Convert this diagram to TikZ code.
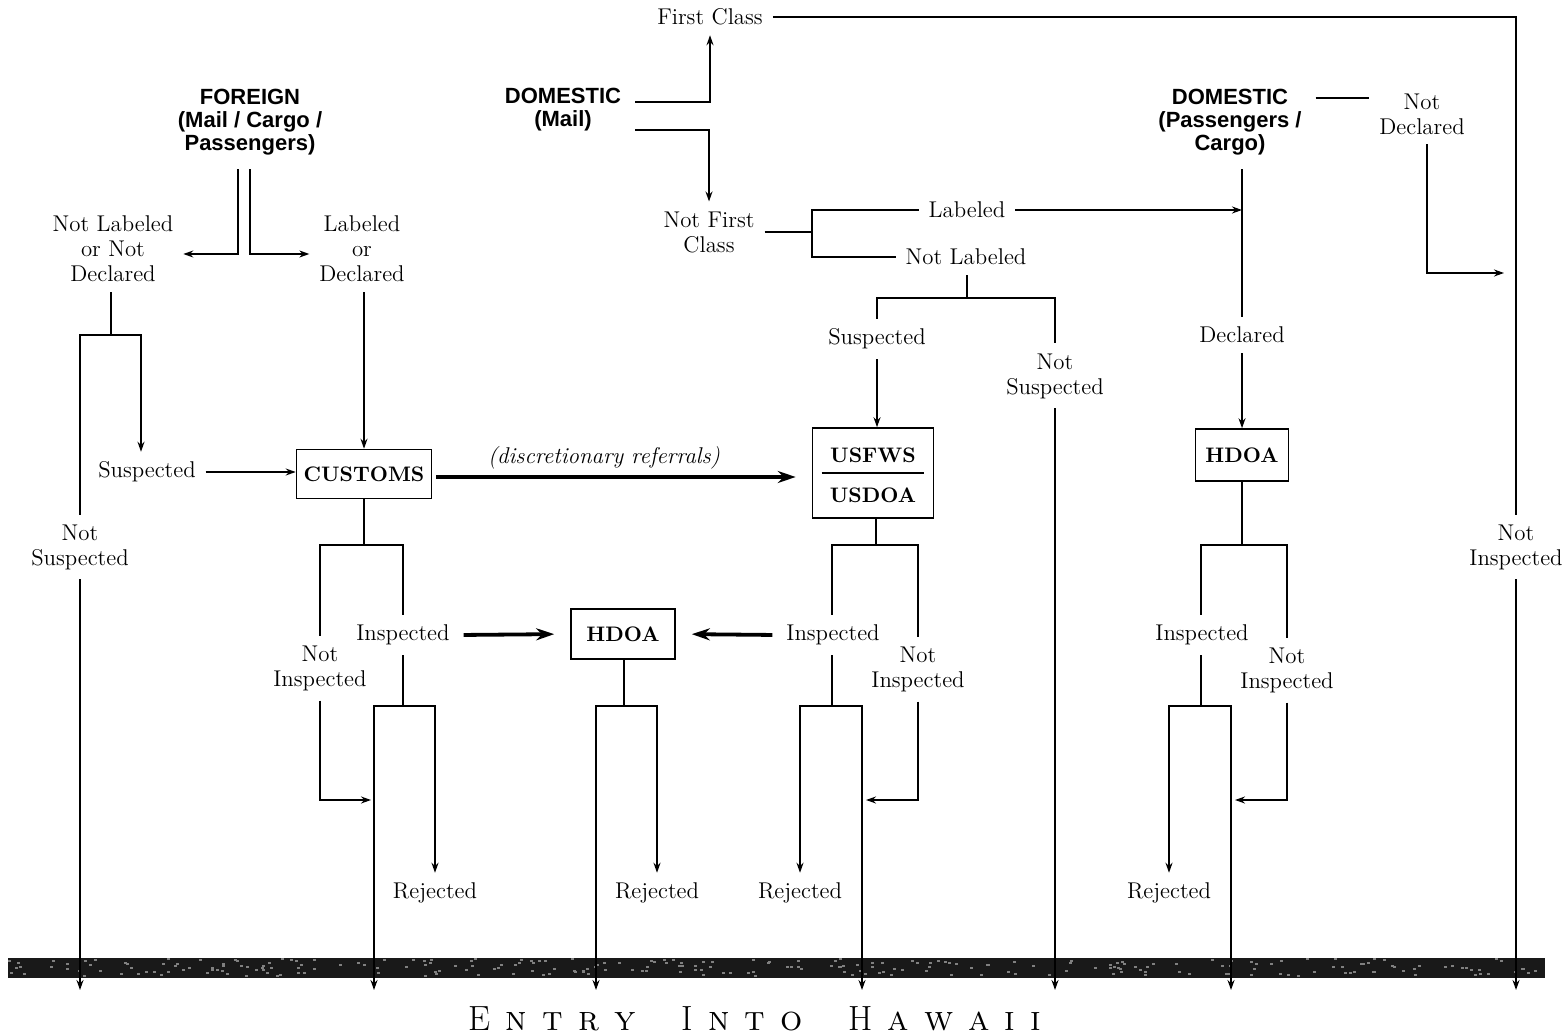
\documentclass[tikz,border=0pt]{standalone}
\usepackage{fontspec}
\usepackage{tikz}
\usetikzlibrary{arrows.meta,positioning}
\newfontfamily\headfont{Liberation Sans}
\newcommand{\lgap}{\hspace{7.5pt}}
\newcommand{\wgap}{\hspace{23pt}}
\tikzset{
  lbl/.style={font=\fontsize{11.4}{12.5}\selectfont, align=center, inner sep=1pt, outer sep=4pt},
  head/.style={font=\headfont\bfseries\fontsize{11}{11.6}\selectfont, align=center, inner sep=1pt, outer sep=6pt},
  agency/.style={draw, font=\bfseries\fontsize{10.5}{12}\selectfont, inner sep=0pt},
  bigarr/.style={-{Stealth[length=9pt,width=6pt]}, line width=1.9pt, shorten >=8pt, shorten <=2pt}
}

\begin{document}
\begin{tikzpicture}[x=0.5pt, y=-0.5pt, line width=0.8pt, >={Stealth[length=5pt,width=3.5pt]}]
  \useasboundingbox (0,0) rectangle (1566,1036);

  % where things come from
  \node[head] (fgn) at (250,122) {FOREIGN\\(Mail / Cargo /\\Passengers)};
  \node[head] (dmail) at (563,110) {DOMESTIC\\(Mail)};
  \node[head] (dpc) at (1230,122) {DOMESTIC\\(Passengers /\\Cargo)};

  % decisions
  \node[lbl] (fc) at (710,17) {First Class};
  \node[lbl] (nfc) at (709,232) {Not First\\Class};
  \node[lbl] (lab) at (967,210) {Labeled};
  \node[lbl] (nlab) at (966,257) {Not Labeled};
  \node[lbl] (nlnd) at (113,249) {Not Labeled\\or Not\\Declared};
  \node[lbl] (lod) at (362,249) {Labeled\\or\\Declared};
  \node[lbl] (susp1) at (147,472) {Suspected};
  \node[lbl] (nsusp1) at (80,547) {Not\\Suspected};
  \node[lbl] (susp2) at (877,339) {Suspected};
  \node[lbl] (nsusp2) at (1055,376) {Not\\Suspected};
  \node[lbl] (ndecl) at (1422,114) {Not\\Declared};
  \node[lbl] (decl) at (1242,335) {Declared};
  \node[lbl] (ninsp4) at (1516,547) {Not\\Inspected};

  % agencies
  \node[agency, minimum width=67.5pt, minimum height=24.5pt] (customs) at (364,474) {CUSTOMS};
  \node[agency, minimum width=60.5pt, minimum height=45pt] (usf) at (873,473) {};
  \node[font=\bfseries\fontsize{10.5}{12}\selectfont] (fws) at (873,455) {USFWS};
  \node[font=\bfseries\fontsize{10.5}{12}\selectfont] (doa) at (873,495) {USDOA};
  \draw[line width=1.4pt] ([xshift=5pt]usf.west) -- ([xshift=-5pt]usf.east);
  \node[agency, minimum width=46.5pt, minimum height=26pt] (hdoaR) at (1242,455) {HDOA};
  \node[agency, minimum width=52pt, minimum height=25pt] (hdoaM) at (623,634) {HDOA};

  % inspection results
  \node[lbl] (insp1) at (403,635) {Inspected};
  \node[lbl] (ninsp1) at (320,668) {Not\\Inspected};
  \node[lbl] (insp2) at (833,635) {Inspected};
  \node[lbl] (ninsp2) at (918,669) {Not\\Inspected};
  \node[lbl] (insp3) at (1202,635) {Inspected};
  \node[lbl] (ninsp3) at (1287,670) {Not\\Inspected};
  \node[lbl] (rej1) at (435,893) {Rejected};
  \node[lbl] (rej2) at (657,893) {Rejected};
  \node[lbl] (rej3) at (800,893) {Rejected};
  \node[lbl] (rej4) at (1169,893) {Rejected};

  % forks and ends
  \coordinate (bot) at (0,990);
  \coordinate (jA) at (111,335);
  \coordinate (jB) at (812,234);
  \coordinate (jC) at (967,298);
  \coordinate (jD) at (364,545);
  \coordinate (jE) at (876,545);
  \coordinate (jF) at (1242,545);
  \coordinate (jG) at (403,706);
  \coordinate (jH) at (624,706);
  \coordinate (jI) at (832,706);
  \coordinate (jJ) at (1201,706);
  \coordinate (ndarr) at (1504,273);
  \coordinate (rG) at (371,800);
  \coordinate (rI) at (866,800);
  \coordinate (rJ) at (1235,800);

  % entry bar
  \pgfmathsetseed{7}
  \fill[black!90] (8,958) rectangle (1545,978);
  \foreach \k in {1,...,260}
    \fill[black!50] ({8+1530*rnd},{958+17*rnd}) rectangle ++(3,2);

  % foreign
  \draw[->] ([xshift=-6pt]fgn.south) |- ([yshift=-2.5pt]nlnd.east);
  \draw[->] (fgn.south) |- ([yshift=-2.5pt]lod.west);
  \draw (nlnd.south -| jA) -- (jA);
  \draw (nsusp1.north) |- (jA);
  \draw[->] (jA) -| ([xshift=-3pt]susp1.north);
  \draw[->] (susp1.east) -- (susp1.east -| customs.west);
  \draw[->] (nsusp1.south) -- (nsusp1.south |- bot);
  \draw[->] (lod.south -| customs.north) -- (customs.north);
  \draw[bigarr] ([yshift=-1.5pt]customs.east) -- ([yshift=-1.5pt]customs.east -| usf.west)
    node[midway, above=-1pt, xshift=-9pt, lbl, font=\itshape\fontsize{11.4}{12.5}\selectfont] {(discretionary referrals)};

  % domestic mail
  \draw[->] ([yshift=4pt]dmail.east) -| (fc.south);
  \draw[->] ([yshift=-10pt]dmail.east) -| (nfc.north);
  \draw (fc.east) -| (ninsp4.north);
  \draw[->] (ninsp4.south) -- (ninsp4.south |- bot);
  \draw (nfc.east) -- (nfc.east -| jB);
  \draw (lab.west) -| (jB) |- (nlab.west);
  \draw[->] (lab.east) -- (lab.east -| decl);
  \draw (nlab.south -| jC) -- (jC);
  \draw (susp2.north) |- (jC) -| (nsusp2.north);
  \draw[->] (susp2.south) -- (susp2.south |- usf.north);
  \draw[->] (nsusp2.south) -- (nsusp2.south |- bot);

  % domestic passengers / cargo
  \draw ([yshift=12pt]dpc.east) -- ([yshift=12pt]dpc.east -| ndecl.west);
  \draw[->] ([xshift=2.5pt]ndecl.south) |- (ndarr);
  \draw (dpc.south -| decl) -- (decl.north);
  \draw[->] (decl.south) -- (hdoaR.north);

  % customs branch
  \draw (customs.south -| jD) -- (jD);
  \draw (ninsp1.north) |- (jD) -| (insp1.north);
  \draw (insp1.south -| jG) -- (jG);
  \draw[->] (jG) -| (rej1.north);
  \draw[->] (jG) -| ([xshift=-14.5pt]jG |- bot);
  \draw[->] (ninsp1.south) |- (rG);
  \draw[bigarr] (insp1.east) -- (hdoaM.west);

  % middle HDOA
  \draw (hdoaM.south -| jH) -- (jH);
  \draw[->] (jH) -| (rej2.north);
  \draw[->] (jH) -| ([xshift=-14pt]jH |- bot);

  % USFWS / USDOA branch
  \draw (usf.south -| jE) -- (jE);
  \draw (insp2.north -| jI) |- (jE) -| (ninsp2.north);
  \draw (insp2.south -| jI) -- (jI);
  \draw[->] (jI) -| (rej3.north);
  \draw[->] (jI) -| ([xshift=15pt]jI |- bot);
  \draw[->] (ninsp2.south) |- (rI);
  \draw[bigarr] (insp2.west) -- (hdoaM.east);

  % right HDOA
  \draw (hdoaR.south -| jF) -- (jF);
  \draw (insp3.north -| jJ) |- (jF) -| (ninsp3.north);
  \draw (insp3.south -| jJ) -- (jJ);
  \draw[->] (jJ) -| (rej4.north);
  \draw[->] (jJ) -| ([xshift=15pt]jJ |- bot);
  \draw[->] (ninsp3.south) |- (rJ);

  \node (title) at (755,1019) {\fontsize{17.5}{20}\selectfont
    E\lgap\textsc{n}\lgap\textsc{t}\lgap\textsc{r}\lgap\textsc{y}\wgap
    I\lgap\textsc{n}\lgap\textsc{t}\lgap\textsc{o}\wgap
    H\lgap\textsc{a}\lgap\textsc{w}\lgap\textsc{a}\lgap\textsc{i}\lgap\textsc{i}};
\end{tikzpicture}
\end{document}
